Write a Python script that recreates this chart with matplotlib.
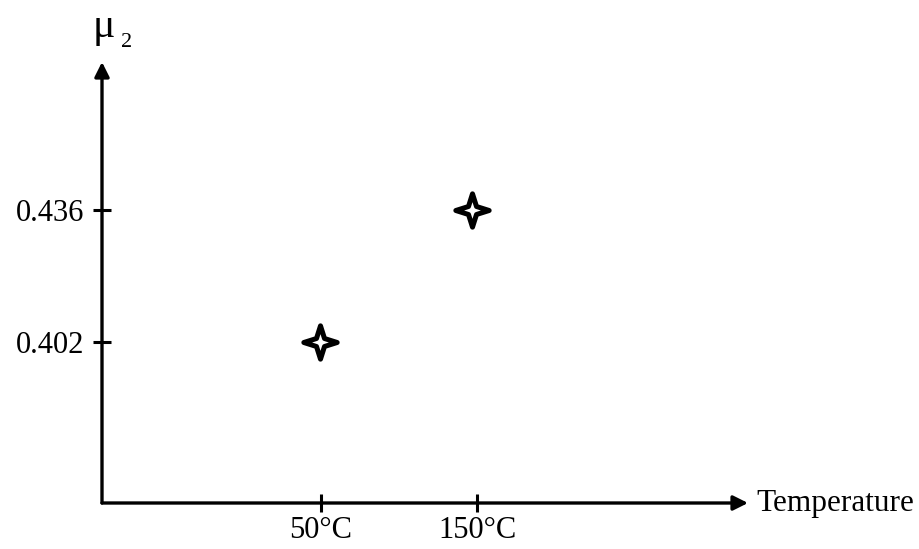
import matplotlib
matplotlib.use("Agg")
import matplotlib.pyplot as plt
from matplotlib.path import Path

temps = [49.5, 146.5]
mu2 = [0.402, 0.436]
x_ticks = [50, 150]
x_labels = ["50°C", "150°C"]
y_ticks = [0.402, 0.436]
y_labels = ["0.402", "0.436"]

plt.rcParams['font.family'] = ['Liberation Serif', 'DejaVu Serif']

# four pointed star with concave sides
c = 0.24
star = Path([(0, 1), (c, c), (1, 0), (c, -c), (0, -1), (-c, -c), (-1, 0), (-c, c), (0, 1)],
            [Path.MOVETO] + [Path.LINETO] * 7 + [Path.CLOSEPOLY])

fig = plt.figure(figsize=(9.2, 5.49), dpi=100)
ax = fig.add_axes([102 / 920, 1 - 503 / 549, 646 / 920, 441 / 549])

ax.plot(temps, mu2, linestyle='none', marker=star, markersize=24,
        markerfacecolor='white', markeredgecolor='black', markeredgewidth=3.6,
        zorder=5)

ax.set_xlim(-90.4, 323.7)
ax.set_ylim(0.3605, 0.4741)

for s in ax.spines.values():
    s.set_visible(False)

ax.set_xticks(x_ticks)
ax.set_xticklabels(x_labels)
ax.set_yticks(y_ticks)
ax.set_yticklabels(y_labels)
ax.tick_params(axis='both', direction='inout', length=13, width=2.2, labelsize=22, color='black')
ax.tick_params(axis='x', pad=3)
ax.tick_params(axis='y', pad=6)

arrow = dict(arrowstyle='-|>', color='black', lw=2.4, mutation_scale=22, shrinkA=0, shrinkB=0)
ax.annotate('', xy=(1, 0), xytext=(0, 0), xycoords='axes fraction', arrowprops=arrow)
ax.annotate('', xy=(0, 1), xytext=(0, 0), xycoords='axes fraction', arrowprops=arrow)

ax.text(1.013, 0.0, 'Temperature', transform=ax.transAxes, ha='left', va='center', fontsize=22.5)
fig.text(104 / 920, 1 - 37 / 549, 'μ', ha='center', va='baseline', fontsize=30)
fig.text(121 / 920, 1 - 47 / 549, '2', ha='left', va='baseline', fontsize=16)

fig.savefig('out.png', dpi=100)
